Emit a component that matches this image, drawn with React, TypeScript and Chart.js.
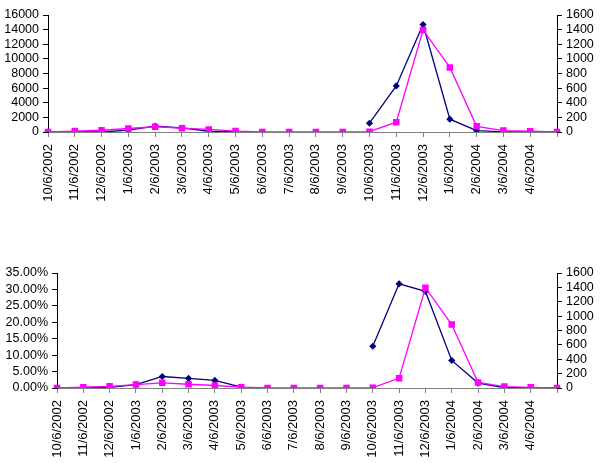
import React, { useEffect, useRef } from 'react';
import { Chart, registerables } from 'chart.js';

Chart.register(...registerables);

const dateLabels = [
  '10/6/2002', '11/6/2002', '12/6/2002', '1/6/2003', '2/6/2003', '3/6/2003', '4/6/2003',
  '5/6/2003', '6/6/2003', '7/6/2003', '8/6/2003', '9/6/2003', '10/6/2003', '11/6/2003',
  '12/6/2003', '1/6/2004', '2/6/2004', '3/6/2004', '4/6/2004', '',
];

const topNavy = [0, 0, 0, 250, 800, 550, 100, 30, null, null, null, null, 1200, 6300, 14700, 1750, 200, 30, 20, 0];
const pinkCounts = [0, 12, 24, 48, 72, 52, 35, 12, 0, 0, 0, 0, 5, 135, 1395, 883, 78, 20, 10, 0];
const bottomNavyPct = [0, 0, 0.2, 1.0, 3.5, 2.9, 2.3, 0.3, null, null, null, null, 12.7, 31.7, 29.4, 8.4, 1.5, 0.1, 0.1, 0];

const leftTopMax = 16000;
const leftTopStep = 2000;
const leftBottomMax = 35;
const leftBottomStep = 5;
const rightMax = 1600;
const rightStep = 200;

const FONT = "'Liberation Sans', Arial, sans-serif";
const NAVY = '#000080';
const PINK = '#FF00FF';

function makeConfig(opts: {
  navy: (number | null)[];
  leftMax: number;
  leftStep: number;
  leftFmt: (v: number) => string;
  leftWidth: number;
  rightWidth: number;
  xHeight: number;
  padTop: number;
}): any {
  const yGrid = {
    display: true,
    drawOnChartArea: false,
    drawTicks: true,
    tickLength: 5,
    color: '#000',
  };
  return {
    type: 'line',
    data: {
      labels: dateLabels,
      datasets: [
        {
          label: 'pink',
          data: pinkCounts,
          yAxisID: 'y1',
          borderColor: PINK,
          backgroundColor: PINK,
          borderWidth: 1.3,
          pointStyle: 'rect',
          pointRadius: 4.6,
          pointBorderWidth: 0,
          tension: 0,
          order: 0,
          spanGaps: false,
        },
        {
          label: 'navy',
          data: opts.navy,
          yAxisID: 'y',
          borderColor: NAVY,
          backgroundColor: NAVY,
          borderWidth: 1.3,
          pointStyle: 'rectRot',
          pointRadius: 3.6,
          pointBorderWidth: 0,
          tension: 0,
          order: 1,
          spanGaps: false,
        },
      ],
    },
    options: {
      animation: false,
      responsive: false,
      devicePixelRatio: 1,
      layout: { padding: { top: opts.padTop, left: 0, right: 0, bottom: 0 } },
      plugins: { legend: { display: false }, tooltip: { enabled: false }, title: { display: false } },
      scales: {
        x: {
          type: 'category',
          offset: false,
          grid: { display: true, drawOnChartArea: false, drawTicks: true, tickLength: 5, color: '#808080' },
          border: { display: true, color: '#808080', width: 1 },
          ticks: {
            autoSkip: false,
            minRotation: 90,
            maxRotation: 90,
            padding: 7,
            color: '#000',
            font: { family: FONT, size: 13 },
          },
          afterFit: (s: any) => { s.height = opts.xHeight; },
        },
        y: {
          position: 'left',
          min: 0,
          max: opts.leftMax,
          grid: yGrid,
          border: { display: true, color: '#000', width: 1 },
          ticks: {
            autoSkip: false,
            stepSize: opts.leftStep,
            padding: 4,
            color: '#000',
            font: { family: FONT, size: 12.5 },
            callback: (v: any) => opts.leftFmt(Number(v)),
          },
          afterFit: (s: any) => { s.width = opts.leftWidth; },
        },
        y1: {
          position: 'right',
          min: 0,
          max: rightMax,
          grid: yGrid,
          border: { display: true, color: '#000', width: 1 },
          ticks: {
            autoSkip: false,
            stepSize: rightStep,
            padding: 4,
            color: '#000',
            font: { family: FONT, size: 12.5 },
            callback: (v: any) => String(v),
          },
          afterFit: (s: any) => { s.width = opts.rightWidth; },
        },
      },
    },
  };
}

function ChartCanvas({ config, top, width, height }: { config: any; top: number; width: number; height: number }) {
  const ref = useRef<HTMLCanvasElement | null>(null);
  useEffect(() => {
    if (!ref.current) return;
    const chart = new Chart(ref.current, config);
    return () => chart.destroy();
  }, []);
  return (
    <canvas
      ref={ref}
      width={width}
      height={height}
      style={{ position: 'absolute', left: 0, top, width, height, display: 'block' }}
    />
  );
}

export default function App() {
  const topConfig = makeConfig({
    navy: topNavy,
    leftMax: leftTopMax,
    leftStep: leftTopStep,
    leftFmt: (v) => String(v),
    leftWidth: 48,
    rightWidth: 43,
    xHeight: 86,
    padTop: 15,
  });
  const bottomConfig = makeConfig({
    navy: bottomNavyPct,
    leftMax: leftBottomMax,
    leftStep: leftBottomStep,
    leftFmt: (v) => v.toFixed(2) + '%',
    leftWidth: 57,
    rightWidth: 43,
    xHeight: 75,
    padTop: 33,
  });
  return (
    <div style={{ position: 'absolute', left: 0, top: 0, width: 600, height: 463, background: '#fff', overflow: 'hidden' }}>
      <ChartCanvas config={topConfig} top={0} width={600} height={218} />
      <ChartCanvas config={bottomConfig} top={240} width={600} height={223} />
    </div>
  );
}
